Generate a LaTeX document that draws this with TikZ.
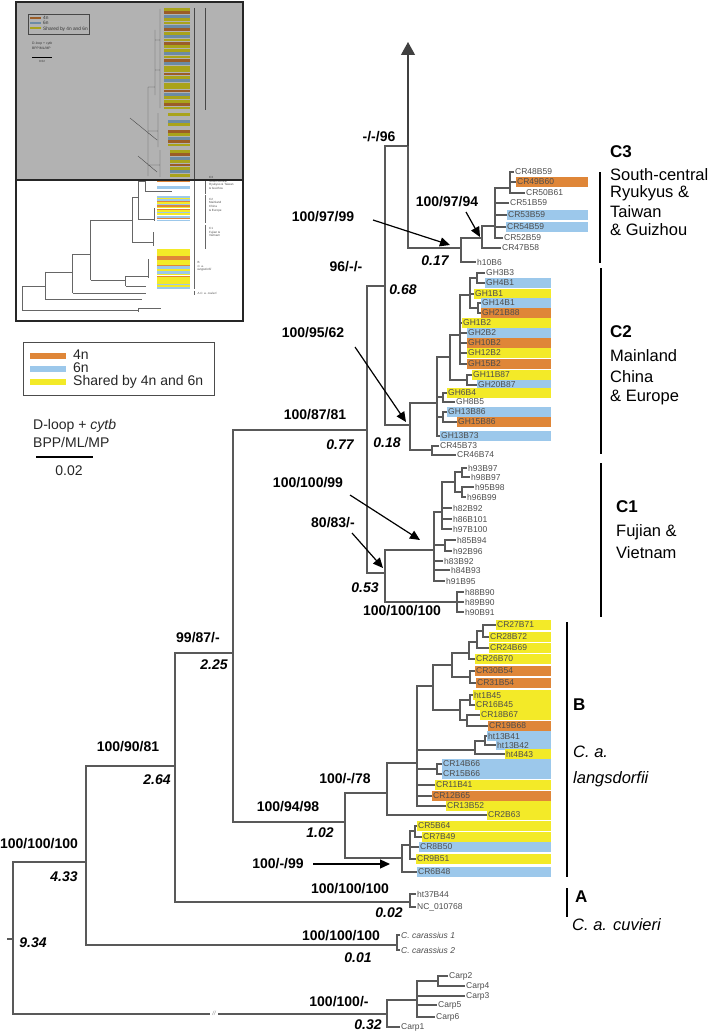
\documentclass[tikz,border=0pt]{standalone}
\usepackage{fontspec}
\setmainfont{Liberation Sans}
\usetikzlibrary{arrows.meta,backgrounds}
\definecolor{hapO}{RGB}{223,134,56}
\definecolor{hapB}{RGB}{156,200,235}
\definecolor{hapY}{RGB}{243,234,40}
\definecolor{hapN}{RGB}{255,255,255}
\tikzstyle{br} = [draw=black!65, line width=1.2pt]
\tikzstyle{leaf} = [anchor=west, inner sep=1pt, minimum height=9pt, text=black!70, font=\fontsize{8.5}{9}\selectfont]
\tikzstyle{leafit} = [leaf, font=\fontsize{8.5}{9}\selectfont\itshape]
\tikzstyle{supp} = [inner sep=1pt, font=\fontsize{14}{16}\selectfont\bfseries]
\tikzstyle{blen} = [inner sep=1pt, font=\fontsize{14}{16}\selectfont\bfseries\itshape]
\tikzstyle{pnt} = [-{Triangle[width=9pt,length=10pt]}, line width=1.2pt]
\tikzstyle{clps} = [-{Triangle[width=14pt,length=13pt]}, draw=black!75, line width=1.2pt]
\tikzstyle{cbar} = [line width=2.8pt]
\tikzstyle{cid} = [anchor=west, inner sep=0pt, font=\fontsize{17}{18}\selectfont\bfseries]
\tikzstyle{cname} = [anchor=west, inner sep=0pt, font=\fontsize{16.5}{18}\selectfont]
\tikzstyle{lgd} = [anchor=west, inner sep=0pt, text=black!85, font=\fontsize{14}{16}\selectfont]
\tikzstyle{mini} = [draw=black!60, line width=0.4pt]
\tikzstyle{minitxt} = [anchor=north west, inner sep=0pt, align=left, text=black!70, font=\fontsize{3}{3.6}\selectfont]

\begin{document}
\begin{tikzpicture}[x=1pt,y=-1pt]
\useasboundingbox (0,0) rectangle (709,1033);

% inset: the whole tree, collapsed clade shaded
\foreach \c [count=\i] in {Y,O,B,Y,Y,B,O,Y,B,Y,O,Y,Y,B,Y,O,B,Y,Y,O,Y,B,Y,Y,O,B,Y,Y,O,Y}
  \fill[fill=hap\c] (164,{4.6+3.4*\i}) rectangle (190,{7.4+3.4*\i});
\foreach \c [count=\i] in {Y,N,B,Y,N,O,Y,B,O,Y}
  \fill[fill=hap\c] (168,{109.6+3.4*\i}) rectangle (190,{112.4+3.4*\i});
\foreach \c [count=\i] in {Y,O,B,Y,O,Y,B,Y}
  \fill[fill=hap\c] (170,{146.6+3.4*\i}) rectangle (190,{149.4+3.4*\i});
\draw[mini] (160,9) -- (160,108) (155,30) -- (155,95) (155,40) -- (160,40) (155,70) -- (160,70)
  (148,87) -- (148,176) (148,87) -- (155,87) (158,113) -- (158,147) (148,131) -- (158,131)
  (160,150) -- (160,177) (148,165) -- (160,165) (130,118) -- (157,140) (138,156) -- (157,172);
\draw[mini] (194,8) -- (194,288) (205,8) -- (205,110);
\draw[mini, fill=white] (28,14) rectangle (89,34);
\fill[hapO] (30,17) rectangle (41,19);
\fill[hapB] (30,22) rectangle (41,24);
\fill[hapY] (30,27) rectangle (41,29);
\node[minitxt, anchor=west, font=\fontsize{4.8}{5}\selectfont] (mlg1) at (43,18) {4n};
\node[minitxt, anchor=west, font=\fontsize{4.8}{5}\selectfont] (mlg2) at (43,23) {6n};
\node[minitxt, anchor=west, font=\fontsize{4.8}{5}\selectfont] (mlg3) at (43,29) {Shared by 4n and 6n};
\node[minitxt, anchor=west, font=\fontsize{3.4}{4}\selectfont] (msc1) at (32,44) {D-loop + \textit{cytb}};
\node[minitxt, anchor=west, font=\fontsize{3.4}{4}\selectfont] (msc2) at (32,48) {BPP/ML/MP};
\draw[line width=1pt] (32,58) -- (52,58);
\node[minitxt, anchor=north] (msc3) at (42,60) {0.02};
\begin{scope}[shift={(17.94,153)}, xscale=0.312, yscale=0.155]
  \foreach \yy/\cc in {182/O,215/B,227/B,283/B,294/Y,303/B,313/O,323/Y,333/B,343/O,353/Y,364/O,375/Y,385/B,393/Y,412/B,422/O,436/B,625/Y,637/Y,648/Y,659/Y,671/O,683/O,695/Y,705/Y,715/Y,726/O,736/B,745/B,754/Y,764/B,774/B,785/Y,796/O,806/Y,815/Y,826/Y,837/Y,847/B,859/Y,872/B}
    \fill[fill=hap\cc] (445,{\yy-5}) rectangle (551,{\yy+5});
  \draw[mini] (13,862) -- (13,1014) (13,862) -- (86,862) (86,766) -- (86,945) (86,766) -- (175,766)
    (86,945) -- (397,945) (175,653) -- (175,902) (175,653) -- (233,653) (175,902) -- (410,902)
    (233,431) -- (233,822) (233,822) -- (345,822) (345,793) -- (345,858) (345,793) -- (417,793)
    (345,858) -- (410,858) (233,431) -- (367,431) (367,286) -- (367,573) (367,286) -- (385,286)
    (367,573) -- (434,573) (385,180) -- (385,425) (385,425) -- (437,425) (385,180) -- (408,180)
    (408,180) -- (408,248) (408,248) -- (495,248) (13,1014) -- (387,1014) (387,1000) -- (387,1027)
    (417,686) -- (417,806) (437,357) -- (437,436) (434,512) -- (434,602) (387,1000) -- (460,1000);
  \draw[mini, line width=0.8pt] (600,172) -- (600,263) (600,268) -- (600,454) (600,463) -- (600,617)
    (567,622) -- (567,877) (567,888) -- (567,917);
  \node[minitxt] (m3) at (612,150) {C3\\South-central\\Ryukyus \& Taiwan\\\& Guizhou};
  \node[minitxt] (m2) at (612,290) {C2\\Mainland\\China\\\& Europe};
  \node[minitxt] (m1) at (612,480) {C1\\Fujian \&\\Vietnam};
  \node[minitxt] (mB) at (575,700) {B\\\textit{C. a.}\\\textit{langsdorfii}};
  \node[minitxt, anchor=west] (mA) at (575,905) {A \textit{C. a. cuvieri}};
\end{scope}
\fill[black, fill opacity=0.3] (16,2) rectangle (243,180);
\draw[line width=2.5pt, black!85] (16,2) rectangle (243,180);
\draw[line width=2.5pt, black!85] (16,2) rectangle (243,321);

% legend and scale
\draw[black!70, line width=0.8pt] (23,342) rectangle (214,395);
\fill[hapO] (30,352.5) rectangle (66,358.5);
\fill[hapB] (30,365.5) rectangle (66,371.5);
\fill[hapY] (30,378.5) rectangle (66,384.5);
\node[lgd] (lg4) at (73,355) {4n};
\node[lgd] (lg6) at (73,368) {6n};
\node[lgd] (lgs) at (73,382) {Shared by 4n and 6n};
\node[lgd] (sc1) at (33,426) {D-loop + \textit{cytb}};
\node[lgd] (sc2) at (33,442) {BPP/ML/MP};
\coordinate (sc3) at (36,457);
\coordinate (sc4) at (93,457);
\draw[line width=1.6pt] (sc3) -- (sc4);
\node[lgd, anchor=center] (sc5) at (69,471) {0.02};

% internal nodes
\coordinate (rt) at (7,939);
\coordinate (r) at (13,939);
\coordinate (brk1) at (210,1014);
\coordinate (brk2) at (218,1014);
\coordinate (n86) at (86,862);
\coordinate (n175) at (175,766);
\coordinate (n233) at (233,653);
\coordinate (n367) at (367,430);
\coordinate (n385) at (385,286);
\coordinate (n408) at (408,146);
\coordinate (ctop) at (408,42);
\coordinate (n461) at (461,248);
\coordinate (n482) at (482,238);
\coordinate (n495) at (495,226);
\coordinate (n510) at (510,188);
\coordinate (n410) at (410,425);
\coordinate (n437) at (437,403);
\coordinate (n450) at (450,357);
\coordinate (n460) at (460,335);
\coordinate (n470) at (470,295);
\coordinate (n477) at (477,278);
\coordinate (n478) at (478,308);
\coordinate (n467) at (467,380);
\coordinate (n443a) at (443,397);
\coordinate (n443b) at (443,417);
\coordinate (n432) at (432,450);
\coordinate (n385c) at (385,573);
\coordinate (n434) at (434,550);
\coordinate (n442) at (442,512);
\coordinate (n455) at (455,482);
\coordinate (n462a) at (462,472);
\coordinate (n462b) at (462,492);
\coordinate (n445) at (445,545);
\coordinate (n457) at (457,602);
\coordinate (n345) at (345,822);
\coordinate (n387) at (387,793);
\coordinate (n417) at (417,763);
\coordinate (n433) at (433,686);
\coordinate (n452) at (452,665);
\coordinate (n469) at (469,653);
\coordinate (n477b) at (477,642);
\coordinate (n483) at (483,631);
\coordinate (n470b) at (470,677);
\coordinate (n460b) at (460,710);
\coordinate (n470c) at (470,700);
\coordinate (n467b) at (467,720);
\coordinate (n475) at (475,750);
\coordinate (n485) at (485,741);
\coordinate (n437b) at (437,769);
\coordinate (n402) at (402,858);
\coordinate (n410b) at (410,845);
\coordinate (n415) at (415,831);
\coordinate (nA) at (410,902);
\coordinate (nCc) at (397,945);
\coordinate (nCp) at (387,1014);
\coordinate (n417c) at (417,1000);
\coordinate (n438) at (438,981);
\coordinate (e3) at (588,0);
\coordinate (e2) at (551,0);

% C3
\node[leaf] (CR48B59) at (514,172) {CR48B59};
\node[leaf] (CR49B60) at (516,182) {CR49B60};
\node[leaf] (CR50B61) at (525,193) {CR50B61};
\node[leaf] (CR51B59) at (509,203) {CR51B59};
\node[leaf] (CR53B59) at (507,215) {CR53B59};
\node[leaf] (CR54B59) at (506,227) {CR54B59};
\node[leaf] (CR52B59) at (503,238) {CR52B59};
\node[leaf] (CR47B58) at (501,248) {CR47B58};
\node[leaf] (h10B6) at (476,262) {h10B6};
% C2
\node[leaf] (GH3B3) at (485,273) {GH3B3};
\node[leaf] (GH4B1) at (485,283) {GH4B1};
\node[leaf] (GH1B1) at (474,294) {GH1B1};
\node[leaf] (GH14B1) at (481,303) {GH14B1};
\node[leaf] (GH21B88) at (481,313) {GH21B88};
\node[leaf] (GH1B2) at (462,323) {GH1B2};
\node[leaf] (GH2B2) at (467,333) {GH2B2};
\node[leaf] (GH10B2) at (467,343) {GH10B2};
\node[leaf] (GH12B2) at (467,353) {GH12B2};
\node[leaf] (GH15B2) at (467,364) {GH15B2};
\node[leaf] (GH11B87) at (472,375) {GH11B87};
\node[leaf] (GH20B87) at (477,385) {GH20B87};
\node[leaf] (GH6B4) at (447,393) {GH6B4};
\node[leaf] (GH8B5) at (455,402) {GH8B5};
\node[leaf] (GH13B86) at (447,412) {GH13B86};
\node[leaf] (GH15B86) at (457,422) {GH15B86};
\node[leaf] (GH13B73) at (440,436) {GH13B73};
\node[leaf] (CR45B73) at (439,446) {CR45B73};
\node[leaf] (CR46B74) at (456,455) {CR46B74};
% C1
\node[leaf] (h93B97) at (467,468) {h93B97};
\node[leaf] (h98B97) at (470,477) {h98B97};
\node[leaf] (h95B98) at (474,487) {h95B98};
\node[leaf] (h96B99) at (466,497) {h96B99};
\node[leaf] (h82B92) at (452,508) {h82B92};
\node[leaf] (h86B101) at (452,519) {h86B101};
\node[leaf] (h97B100) at (452,529) {h97B100};
\node[leaf] (h85B94) at (456,540) {h85B94};
\node[leaf] (h92B96) at (452,551) {h92B96};
\node[leaf] (h83B92) at (443,561) {h83B92};
\node[leaf] (h84B93) at (450,570) {h84B93};
\node[leaf] (h91B95) at (445,581) {h91B95};
\node[leaf] (h88B90) at (464,592) {h88B90};
\node[leaf] (h89B90) at (464,602) {h89B90};
\node[leaf] (h90B91) at (464,612) {h90B91};
% B
\node[leaf] (CR27B71) at (496,625) {CR27B71};
\node[leaf] (CR28B72) at (489,637) {CR28B72};
\node[leaf] (CR24B69) at (489,648) {CR24B69};
\node[leaf] (CR26B70) at (475,659) {CR26B70};
\node[leaf] (CR30B54) at (475,671) {CR30B54};
\node[leaf] (CR31B54) at (476,683) {CR31B54};
\node[leaf] (ht1B45) at (473,695) {ht1B45};
\node[leaf] (CR16B45) at (475,705) {CR16B45};
\node[leaf] (CR18B67) at (480,715) {CR18B67};
\node[leaf] (CR19B68) at (488,726) {CR19B68};
\node[leaf] (ht13B41) at (487,736) {ht13B41};
\node[leaf] (ht13B42) at (496,745) {ht13B42};
\node[leaf] (ht4B43) at (505,754) {ht4B43};
\node[leaf] (CR14B66) at (442,764) {CR14B66};
\node[leaf] (CR15B66) at (442,774) {CR15B66};
\node[leaf] (CR11B41) at (435,785) {CR11B41};
\node[leaf] (CR12B65) at (432,796) {CR12B65};
\node[leaf] (CR13B52) at (446,806) {CR13B52};
\node[leaf] (CR2B63) at (487,815) {CR2B63};
\node[leaf] (CR5B64) at (417,826) {CR5B64};
\node[leaf] (CR7B49) at (422,837) {CR7B49};
\node[leaf] (CR8B50) at (419,847) {CR8B50};
\node[leaf] (CR9B51) at (416,859) {CR9B51};
\node[leaf] (CR6B48) at (417,872) {CR6B48};
% A and outgroups
\node[leaf] (ht37B44) at (416,894) {ht37B44};
\node[leaf] (ncA) at (416,907) {NC\_010768};
\node[leafit] (Cc1) at (400,935) {C. carassius 1};
\node[leafit] (Cc2) at (400,950) {C. carassius 2};
\node[leaf] (Carp2) at (448,976) {Carp2};
\node[leaf] (Carp4) at (465,986) {Carp4};
\node[leaf] (Carp3) at (465,996) {Carp3};
\node[leaf] (Carp5) at (437,1005) {Carp5};
\node[leaf] (Carp6) at (435,1017) {Carp6};
\node[leaf] (Carp1) at (400,1027) {Carp1};
\node[inner sep=0pt, text=black!45, font=\fontsize{6}{6}\selectfont\itshape] (brk) at (214,1013) {//};

% branches
\draw[br] (rt) -- (r);
\draw[br] (r) |- (n86) (r) |- (brk1) (brk2) -- (nCp);
\draw[br] (n86) |- (n175) (n86) |- (nCc);
\draw[br] (n175) |- (n233) (n175) |- (nA);
\draw[br] (n233) |- (n367) (n233) |- (n345);
\draw[br] (n367) |- (n385) (n367) |- (n385c);
\draw[br] (n385) |- (n408) (n385) |- (n410);
\draw[br] (n408) |- (n461);
\draw[clps] (n408) -- (ctop);
\draw[br] (n461) |- (n482) (n461) |- (h10B6.west);
\draw[br] (n482) |- (n495) (n482) |- (CR47B58.west);
\draw[br] (n495) |- (n510) (n495) |- (CR51B59.west) (n495) |- (CR53B59.west) (n495) |- (CR54B59.west) (n495) |- (CR52B59.west);
\draw[br] (n510) |- (CR48B59.west) (n510) |- (CR49B60.west) (n510) |- (CR50B61.west);
\draw[br] (n410) |- (n437) (n410) |- (n432);
\draw[br] (n437) |- (n450) (n437) |- (n443a) (n437) |- (n443b) (n437) |- (GH13B73.west);
\draw[br] (n443a) |- (GH6B4.west) (n443a) |- (GH8B5.west);
\draw[br] (n443b) |- (GH13B86.west) (n443b) |- (GH15B86.west);
\draw[br] (n432) |- (CR45B73.west) (n432) |- (CR46B74.west);
\draw[br] (n450) |- (n460) (n450) |- (n467);
\draw[br] (n467) |- (GH11B87.west) (n467) |- (GH20B87.west);
\draw[br] (n460) |- (n470) (n460) |- (GH1B2.west) (n460) |- (GH2B2.west) (n460) |- (GH10B2.west) (n460) |- (GH12B2.west) (n460) |- (GH15B2.west);
\draw[br] (n470) |- (n477) (n470) |- (GH1B1.west) (n470) |- (n478);
\draw[br] (n477) |- (GH3B3.west) (n477) |- (GH4B1.west);
\draw[br] (n478) |- (GH14B1.west) (n478) |- (GH21B88.west);
\draw[br] (n385c) |- (n434) (n385c) |- (n457);
\draw[br] (n434) |- (n442) (n434) |- (n445) (n434) |- (h83B92.west) (n434) |- (h84B93.west) (n434) |- (h91B95.west);
\draw[br] (n442) |- (n455) (n442) |- (h82B92.west) (n442) |- (h86B101.west) (n442) |- (h97B100.west);
\draw[br] (n455) |- (n462a) (n455) |- (n462b);
\draw[br] (n462a) |- (h93B97.west) (n462a) |- (h98B97.west);
\draw[br] (n462b) |- (h95B98.west) (n462b) |- (h96B99.west);
\draw[br] (n445) |- (h85B94.west) (n445) |- (h92B96.west);
\draw[br] (n457) |- (h88B90.west) (n457) |- (h89B90.west) (n457) |- (h90B91.west);
\draw[br] (n345) |- (n387) (n345) |- (n402);
\draw[br] (n387) |- (n417) (n387) |- (CR2B63.west);
\draw[br] (n417) |- (n433) (n417) |- (n475) (n417) |- (n437b) (n417) |- (CR11B41.west) (n417) |- (CR12B65.west) (n417) |- (CR13B52.west);
\draw[br] (n433) |- (n452) (n433) |- (n460b);
\draw[br] (n452) |- (n469) (n452) |- (n470b);
\draw[br] (n469) |- (n477b) (n469) |- (CR26B70.west);
\draw[br] (n477b) |- (n483) (n477b) |- (CR24B69.west);
\draw[br] (n483) |- (CR27B71.west) (n483) |- (CR28B72.west);
\draw[br] (n470b) |- (CR30B54.west) (n470b) |- (CR31B54.west);
\draw[br] (n460b) |- (n470c) (n460b) |- (n467b);
\draw[br] (n470c) |- (ht1B45.west) (n470c) |- (CR16B45.west);
\draw[br] (n467b) |- (CR18B67.west) (n467b) |- (CR19B68.west);
\draw[br] (n475) |- (n485) (n475) |- (ht4B43.west);
\draw[br] (n485) |- (ht13B41.west) (n485) |- (ht13B42.west);
\draw[br] (n437b) |- (CR14B66.west) (n437b) |- (CR15B66.west);
\draw[br] (n402) |- (n410b) (n402) |- (CR6B48.west);
\draw[br] (n410b) |- (n415) (n410b) |- (CR8B50.west) (n410b) |- (CR9B51.west);
\draw[br] (n415) |- (CR5B64.west) (n415) |- (CR7B49.west);
\draw[br] (nA) |- (ht37B44.west) (nA) |- (ncA.west);
\draw[br] (nCc) |- (Cc1.west) (nCc) |- (Cc2.west);
\draw[br] (nCp) |- (n417c) (nCp) |- (Carp1.west);
\draw[br] (n417c) |- (n438) (n417c) |- (Carp3.west) (n417c) |- (Carp5.west) (n417c) |- (Carp6.west);
\draw[br] (n438) |- (Carp2.west) (n438) |- (Carp4.west);

% haplotype shading
\begin{scope}[on background layer]
  \fill[hapO] (CR49B60.south west) rectangle (CR49B60.north -| e3);
  \fill[hapB] (CR53B59.south west) rectangle (CR53B59.north -| e3);
  \fill[hapB] (CR54B59.south west) rectangle (CR54B59.north -| e3);
  \fill[hapB] (GH4B1.south west) rectangle (GH4B1.north -| e2);
  \fill[hapY] (GH1B1.south west) rectangle (GH1B1.north -| e2);
  \fill[hapB] (GH14B1.south west) rectangle (GH14B1.north -| e2);
  \fill[hapO] (GH21B88.south west) rectangle (GH21B88.north -| e2);
  \fill[hapY] (GH1B2.south west) rectangle (GH1B2.north -| e2);
  \fill[hapB] (GH2B2.south west) rectangle (GH2B2.north -| e2);
  \fill[hapO] (GH10B2.south west) rectangle (GH10B2.north -| e2);
  \fill[hapY] (GH12B2.south west) rectangle (GH12B2.north -| e2);
  \fill[hapO] (GH15B2.south west) rectangle (GH15B2.north -| e2);
  \fill[hapY] (GH11B87.south west) rectangle (GH11B87.north -| e2);
  \fill[hapB] (GH20B87.south west) rectangle (GH20B87.north -| e2);
  \fill[hapY] (GH6B4.south west) rectangle (GH6B4.north -| e2);
  \fill[hapB] (GH13B86.south west) rectangle (GH13B86.north -| e2);
  \fill[hapO] (GH15B86.south west) rectangle (GH15B86.north -| e2);
  \fill[hapB] (GH13B73.south west) rectangle (GH13B73.north -| e2);
  \fill[hapY] (CR27B71.south west) rectangle (CR27B71.north -| e2);
  \fill[hapY] (CR28B72.south west) rectangle (CR28B72.north -| e2);
  \fill[hapY] (CR24B69.south west) rectangle (CR24B69.north -| e2);
  \fill[hapY] (CR26B70.south west) rectangle (CR26B70.north -| e2);
  \fill[hapO] (CR30B54.south west) rectangle (CR30B54.north -| e2);
  \fill[hapO] (CR31B54.south west) rectangle (CR31B54.north -| e2);
  \fill[hapY] (ht1B45.south west) rectangle (ht1B45.north -| e2);
  \fill[hapY] (CR16B45.south west) rectangle (CR16B45.north -| e2);
  \fill[hapY] (CR18B67.south west) rectangle (CR18B67.north -| e2);
  \fill[hapO] (CR19B68.south west) rectangle (CR19B68.north -| e2);
  \fill[hapB] (ht13B41.south west) rectangle (ht13B41.north -| e2);
  \fill[hapB] (ht13B42.south west) rectangle (ht13B42.north -| e2);
  \fill[hapB] (CR14B66.south west) rectangle (CR14B66.north -| e2);
  \fill[hapB] (CR15B66.south west) rectangle (CR15B66.north -| e2);
  \fill[hapY] (ht4B43.south west) rectangle (ht4B43.north -| e2);
  \fill[hapY] (CR11B41.south west) rectangle (CR11B41.north -| e2);
  \fill[hapO] (CR12B65.south west) rectangle (CR12B65.north -| e2);
  \fill[hapY] (CR13B52.south west) rectangle (CR13B52.north -| e2);
  \fill[hapY] (CR2B63.south west) rectangle (CR2B63.north -| e2);
  \fill[hapY] (CR5B64.south west) rectangle (CR5B64.north -| e2);
  \fill[hapY] (CR7B49.south west) rectangle (CR7B49.north -| e2);
  \fill[hapB] (CR8B50.south west) rectangle (CR8B50.north -| e2);
  \fill[hapY] (CR9B51.south west) rectangle (CR9B51.north -| e2);
  \fill[hapB] (CR6B48.south west) rectangle (CR6B48.north -| e2);
\end{scope}

% support values and branch lengths
\node[supp] (s1) at (379,137) {-/-/96};
\node[supp] (s2) at (323,217) {100/97/99};
\node[supp] (s3) at (447,202) {100/97/94};
\node[supp] (s4) at (346,267) {96/-/-};
\node[blen] (l1) at (403,290) {0.68};
\node[blen] (l2) at (435,261) {0.17};
\node[supp] (s5) at (313,333) {100/95/62};
\node[supp] (s6) at (315,415) {100/87/81};
\node[blen] (l3) at (340,445) {0.77};
\node[blen] (l4) at (387,443) {0.18};
\node[supp] (s7) at (308,483) {100/100/99};
\node[supp] (s8) at (333,523) {80/83/-};
\node[blen] (l5) at (365,588) {0.53};
\node[supp] (s9) at (402,611) {100/100/100};
\node[supp] (s10) at (198,638) {99/87/-};
\node[blen] (l6) at (214,665) {2.25};
\node[supp] (s11) at (128,747) {100/90/81};
\node[blen] (l7) at (157,780) {2.64};
\node[supp] (s12) at (345,779) {100/-/78};
\node[supp] (s13) at (288,807) {100/94/98};
\node[blen] (l8) at (320,833) {1.02};
\node[supp] (s14) at (278,864) {100/-/99};
\node[supp] (s15) at (350,889) {100/100/100};
\node[blen] (l9) at (389,913) {0.02};
\node[supp] (s16) at (39,844) {100/100/100};
\node[blen] (l10) at (64,877) {4.33};
\node[blen] (l11) at (33,943) {9.34};
\node[supp] (s17) at (341,936) {100/100/100};
\node[blen] (l12) at (358,958) {0.01};
\node[supp] (s18) at (339,1002) {100/100/-};
\node[blen] (l13) at (368,1025) {0.32};

% pointers
\coordinate (a1s) at (373,220);
\coordinate (a1e) at (450,245);
\coordinate (a2s) at (466,212);
\coordinate (a2e) at (480,237);
\coordinate (a3s) at (355,347);
\coordinate (a3e) at (406,422);
\coordinate (a4s) at (350,495);
\coordinate (a4e) at (420,540);
\coordinate (a5s) at (352,533);
\coordinate (a5e) at (383,568);
\coordinate (a6s) at (313,864);
\coordinate (a6e) at (390,864);
\draw[pnt] (a1s) -- (a1e);
\draw[pnt] (a2s) -- (a2e);
\draw[pnt] (a3s) -- (a3e);
\draw[pnt] (a4s) -- (a4e);
\draw[pnt] (a5s) -- (a5e);
\draw[pnt] (a6s) -- (a6e);

% clade bars and names
\coordinate (c3t) at (600,172);
\coordinate (c3b) at (600,263);
\coordinate (c2t) at (601,268);
\coordinate (c2b) at (601,454);
\coordinate (c1t) at (601,463);
\coordinate (c1b) at (601,617);
\coordinate (cbt) at (567,622);
\coordinate (cbb) at (567,877);
\coordinate (cat) at (567,888);
\coordinate (cab) at (567,917);
\draw[cbar] (c3t) -- (c3b);
\draw[cbar] (c2t) -- (c2b);
\draw[cbar] (c1t) -- (c1b);
\draw[cbar] (cbt) -- (cbb);
\draw[cbar] (cat) -- (cab);
\node[cid] (k3) at (610,152) {C3};
\node[cname] (k3a) at (610,175) {South-central};
\node[cname] (k3b) at (610,193) {Ryukyus \&};
\node[cname] (k3c) at (610,212) {Taiwan};
\node[cname] (k3d) at (610,230) {\& Guizhou};
\node[cid] (k2) at (610,332) {C2};
\node[cname] (k2a) at (610,356) {Mainland};
\node[cname] (k2b) at (610,377) {China};
\node[cname] (k2c) at (610,397) {\& Europe};
\node[cid] (k1) at (616,507) {C1};
\node[cname] (k1a) at (616,532) {Fujian \&};
\node[cname] (k1b) at (616,553) {Vietnam};
\node[cid] (kB) at (573,705) {B};
\node[cname, font=\fontsize{16.5}{18}\selectfont\itshape] (kBa) at (573,752) {C. a.};
\node[cname, font=\fontsize{16.5}{18}\selectfont\itshape] (kBb) at (573,779) {langsdorfii};
\node[cid] (kA) at (575,897) {A};
\node[cname, font=\fontsize{16.5}{18}\selectfont\itshape] (kAa) at (572,925) {C. a. cuvieri};
\end{tikzpicture}
\end{document}
